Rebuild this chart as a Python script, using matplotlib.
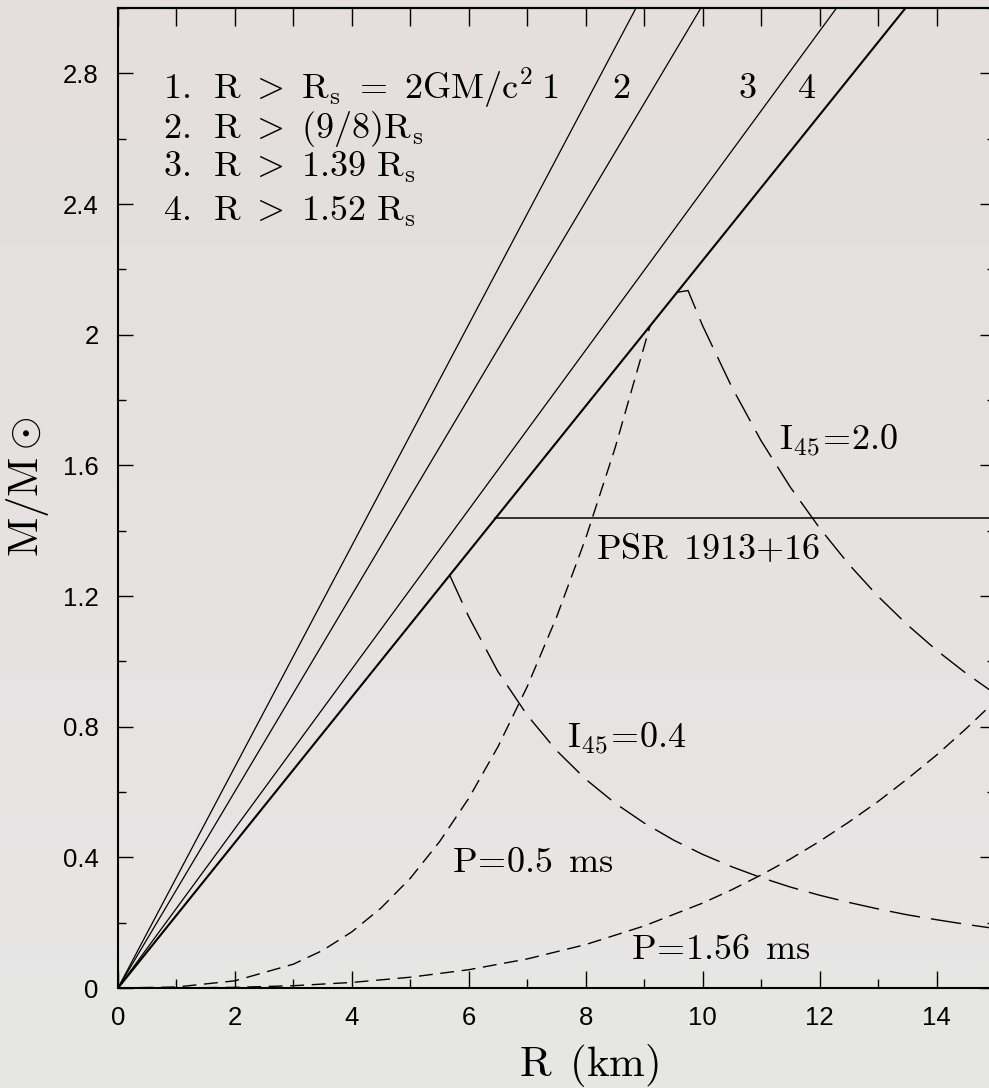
import numpy as np
import matplotlib
matplotlib.use('Agg')
import matplotlib.pyplot as plt
from matplotlib.ticker import MultipleLocator

plt.rcParams['mathtext.fontset'] = 'cm'

# ---------------- data ----------------
# causality / GR limits: straight lines from origin, R (km) where each reaches M = 3.0
limit_names = ['1', '2', '3', '4']
limit_R_top = [8.86, 9.97, 12.29, 13.47]
limit_M_top = 3.0
limit_name_R = [7.39, 8.60, 10.77, 11.78]

# PSR 1913+16 mass line
psr_R = [6.45, 15.0]
psr_M = [1.44, 1.44]

# Keplerian limit P = 0.5 ms
p05_R = [0.0, 1.0, 2.0, 3.0, 3.5, 4.0, 4.5, 5.0, 5.5, 6.0, 6.5, 7.0, 7.5, 8.0, 8.5, 9.1]
p05_M = [0.0, 0.003, 0.022, 0.073, 0.115, 0.172, 0.245, 0.336, 0.448, 0.581, 0.739,
         0.923, 1.135, 1.377, 1.652, 2.027]

# Keplerian limit P = 1.56 ms
p156_R = [0.0, 1.0, 2.0, 3.0, 4.0, 5.0, 6.0, 7.0, 8.0, 9.0, 10.0, 10.5, 11.0, 11.5,
          12.0, 12.5, 13.0, 13.5, 14.0, 14.5, 15.0]
p156_M = [0.0, 0.0003, 0.002, 0.007, 0.017, 0.033, 0.056, 0.089, 0.133, 0.190, 0.260,
          0.301, 0.346, 0.395, 0.449, 0.508, 0.571, 0.640, 0.713, 0.793, 0.878]

# moment of inertia I45 = 0.4
i04_R = [5.67, 6.0, 6.5, 7.0, 7.5, 8.0, 8.5, 9.0, 9.5, 10.0, 10.5, 11.0, 11.5, 12.0,
         12.5, 13.0, 13.5, 14.0, 14.5, 15.0]
i04_M = [1.265, 1.136, 0.968, 0.835, 0.727, 0.639, 0.566, 0.505, 0.453, 0.409, 0.371,
         0.338, 0.309, 0.284, 0.262, 0.242, 0.224, 0.209, 0.195, 0.182]

# moment of inertia I45 = 2.0
i20_R = [9.57, 9.75, 10.0, 10.5, 11.0, 11.5, 12.0, 12.5, 13.0, 13.5, 14.0, 14.5, 15.0]
i20_M = [2.13, 2.135, 2.027, 1.839, 1.675, 1.533, 1.408, 1.297, 1.199, 1.112, 1.034,
         0.964, 0.901]

y_ticks = [0, 0.4, 0.8, 1.2, 1.6, 2.0, 2.4, 2.8]
y_ticklabels = ['0', '0.4', '0.8', '1.2', '1.6', '2', '2.4', '2.8']
x_ticks = [0, 2, 4, 6, 8, 10, 12, 14]
x_ticklabels = ['0', '2', '4', '6', '8', '10', '12', '14']

legend_lines = [r'$\mathrm{1.\ \,R\ >\ R_s\ =\ 2GM/c^2}$',
                r'$\mathrm{2.\ \,R\ >\ (9/8)R_s}$',
                r'$\mathrm{3.\ \,R\ >\ 1.39\ R_s}$',
                r'$\mathrm{4.\ \,R\ >\ 1.52\ R_s}$']
legend_M = [2.723, 2.601, 2.482, 2.350]

# ---------------- figure ----------------
W, H = 989, 1088
fig = plt.figure(figsize=(W / 100, H / 100), dpi=100)

# background gradient
bg = fig.add_axes([0, 0, 1, 1], zorder=-5)
t = np.linspace(0, 1, 256)[:, None, None]
c_top = np.array([228, 222, 222]) / 255.0
c_bot = np.array([231, 231, 230]) / 255.0
img = c_top + (c_bot - c_top) * t
bg.imshow(img, aspect='auto', extent=[0, 1, 0, 1], origin='upper')
bg.axis('off')

x0, x1 = 118, 995
y0, y1 = 8, 988
ax = fig.add_axes([x0 / W, 1 - y1 / H, (x1 - x0) / W, (y1 - y0) / H])
ax.set_facecolor('none')
ax.set_xlim(0, 15)
ax.set_ylim(0, 3.0)

lw_thin = 0.9
for i, rt in enumerate(limit_R_top):
    ax.plot([0, rt], [0, limit_M_top], color='black',
            lw=1.5 if i == 3 else lw_thin, solid_capstyle='butt')

ax.plot(psr_R, psr_M, color='black', lw=1.1)

short = (10, 5.5)
long_ = (22, 8)
ax.plot(p05_R, p05_M, color='black', lw=1.0, dashes=short)
ax.plot(p156_R, p156_M, color='black', lw=1.0, dashes=short)
ax.plot(i04_R, i04_M, color='black', lw=1.0, dashes=long_)
ax.plot(i20_R, i20_M, color='black', lw=1.0, dashes=long_)

fs = 26
for s, m in zip(legend_lines, legend_M):
    ax.text(0.77, m, s, fontsize=fs, ha='left', va='baseline')
for s, r in zip(limit_names, limit_name_R):
    ax.text(r, 2.723, r'$\mathrm{%s}$' % s, fontsize=fs, ha='center', va='baseline')

ax.text(8.18, 1.313, r'$\mathrm{PSR\ \,1913{+}16}$', fontsize=fs, ha='left', va='baseline')
ax.text(11.30, 1.646, r'$\mathrm{I_{45}\!=\!2.0}$', fontsize=fs, ha='left', va='baseline')
ax.text(7.68, 0.734, r'$\mathrm{I_{45}\!=\!0.4}$', fontsize=fs, ha='left', va='baseline')
ax.text(5.72, 0.355, r'$\mathrm{P\!=\!0.5\ \,ms}$', fontsize=fs, ha='left', va='baseline')
ax.text(8.78, 0.089, r'$\mathrm{P\!=\!1.56\ \,ms}$', fontsize=fs, ha='left', va='baseline')

# ticks
ax.set_xticks(x_ticks)
ax.set_xticklabels(x_ticklabels)
ax.xaxis.set_minor_locator(MultipleLocator(1))
ax.set_yticks(y_ticks)
ax.set_yticklabels(y_ticklabels)
ax.yaxis.set_minor_locator(MultipleLocator(0.2))
ax.tick_params(axis='x', which='major', direction='in', length=12.5, width=1.0,
               bottom=True, top=False, pad=13, labelsize=18.5)
ax.tick_params(axis='x', which='minor', direction='in', length=6.5, width=1.0,
               bottom=True, top=False)
ax.tick_params(axis='y', which='major', direction='in', length=11, width=1.0,
               left=True, right=True, pad=14, labelsize=18.5)
ax.tick_params(axis='y', which='minor', direction='in', length=6, width=1.0,
               left=True, right=True)
for lab in ax.get_xticklabels() + ax.get_yticklabels():
    lab.set_fontfamily('Liberation Sans')

sec = ax.secondary_xaxis('top')
sec.set_xticks(list(range(0, 16)))
sec.tick_params(axis='x', which='major', direction='in', length=13, width=1.0,
                labeltop=False)
sec.xaxis.set_minor_locator(matplotlib.ticker.NullLocator())
for sp in sec.spines.values():
    sp.set_linewidth(1.5)

for sp in ax.spines.values():
    sp.set_linewidth(1.5)

# axis labels
fig.text(589 / W, 1 - 1076 / H, r'$\mathrm{R\ \,(km)}$', fontsize=31,
         ha='center', va='baseline')
fig.text(27.5 / W, 1 - 487 / H, r'$\mathrm{M/M}\odot$', fontsize=31,
         ha='center', va='center', rotation=90)

fig.savefig('out.png', dpi=100)
